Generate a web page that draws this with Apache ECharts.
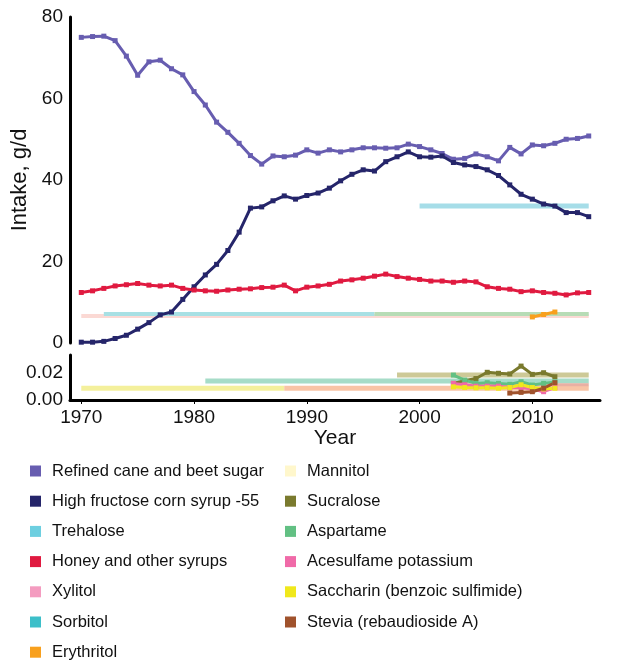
<!DOCTYPE html>
<html>
<head>
<meta charset="utf-8">
<script src="https://cdn.jsdelivr.net/npm/echarts@6/dist/echarts.min.js"></script>
<style>
  html, body { margin: 0; padding: 0; background: #fff; }
  #main { width: 641px; height: 665px; }
</style>
</head>
<body>
<div id="main"></div>
<script>
// 年份
const years = [1970, 1971, 1972, 1973, 1974, 1975, 1976, 1977, 1978, 1979,
  1980, 1981, 1982, 1983, 1984, 1985, 1986, 1987, 1988, 1989,
  1990, 1991, 1992, 1993, 1994, 1995, 1996, 1997, 1998, 1999,
  2000, 2001, 2002, 2003, 2004, 2005, 2006, 2007, 2008, 2009,
  2010, 2011, 2012, 2013, 2014, 2015]
const tickYears = [1970, 1980, 1990, 2000, 2010]

// 上图 g/d
const refined = [75.0, 75.2, 75.3, 74.2, 70.4, 65.7, 69.0, 69.4, 67.3, 65.8,
  61.7, 58.4, 54.2, 51.7, 49.0, 46.0, 43.9, 45.9, 45.7, 46.1,
  47.4, 46.6, 47.4, 46.9, 47.4, 47.9, 47.9, 47.8, 47.9, 48.8,
  48.2, 47.4, 46.5, 45.1, 45.3, 46.4, 45.7, 44.7, 48.0, 46.4,
  48.6, 48.4, 49.0, 50.0, 50.2, 50.8]
const hfcs = [0.2, 0.2, 0.4, 1.1, 1.9, 3.4, 5.0, 6.9, 7.6, 10.7,
  13.8, 16.7, 19.3, 22.7, 27.2, 33.1, 33.4, 34.9, 36.1, 35.3,
  36.2, 36.8, 38.0, 39.8, 41.4, 42.5, 42.2, 44.5, 45.7, 46.9,
  45.7, 45.6, 45.9, 44.3, 43.7, 43.3, 42.5, 41.1, 38.8, 36.5,
  35.3, 34.1, 33.6, 32.0, 32.0, 31.0]
const honey = [12.4, 12.8, 13.4, 14.0, 14.3, 14.6, 14.2, 14.0, 14.2, 13.4,
  13.0, 12.8, 12.7, 13.0, 13.2, 13.3, 13.6, 13.7, 14.2, 12.8,
  13.7, 14.0, 14.4, 15.2, 15.5, 15.9, 16.4, 16.9, 16.3, 15.9,
  15.6, 15.2, 15.2, 14.9, 15.2, 15.0, 13.8, 13.4, 13.2, 12.6,
  12.8, 12.4, 12.2, 11.8, 12.3, 12.4]
const erythritolYears = [2010, 2011, 2012]
const erythritol = [6.4, 7.0, 7.6]

// 上图 横条
const trehaloseBand = [[2000, 33.6], [2015, 33.6]]
const xylitolBand = [[1970, 6.6], [2015, 6.6]]
const sorbitolBand = [[1972, 7.1], [1996, 7.1]]
const greenBand = [[1996, 7.1], [2015, 7.1]]

// 下图 g/d
const lowYears = [2003, 2004, 2005, 2006, 2007, 2008, 2009, 2010, 2011, 2012]
const sucralose = [0.012, 0.014, 0.0155, 0.020, 0.0193, 0.0188, 0.0245, 0.0185, 0.0197, 0.0168]
const aspartame = [0.018, 0.0144, 0.012, 0.0125, 0.012, 0.0113, 0.0132, 0.0108, 0.012, 0.013]
const acesulfame = [0.012, 0.011, 0.010, 0.010, 0.010, 0.009, 0.009, 0.008, 0.006, 0.009]
const saccharin = [0.0095, 0.009, 0.0088, 0.0088, 0.0085, 0.009, 0.011, 0.009, 0.008, 0.0085]
const steviaYears = [2008, 2009, 2010, 2011, 2012]
const stevia = [0.005, 0.0055, 0.006, 0.0085, 0.0125]

// 下图 横条
const mannitolBand = [[1970, 0.0085], [1988, 0.0085]]
const peachBand = [[1988, 0.0085], [2015, 0.0085]]
const aspartameBand = [[1981, 0.0137], [2015, 0.0137]]
const sucraloseBand = [[1998, 0.018], [2015, 0.018]]
const pinkBand = [[2003, 0.011], [2015, 0.011]]

const legendLeft = ['Refined cane and beet sugar', 'High fructose corn syrup -55', 'Trehalose',
  'Honey and other syrups', 'Xylitol', 'Sorbitol', 'Erythritol']
const legendRight = ['Mannitol', 'Sucralose', 'Aspartame', 'Acesulfame potassium',
  'Saccharin (benzoic sulfimide)', 'Stevia (rebaudioside A)']

const colors = {
  'Refined cane and beet sugar': '#675db0',
  'High fructose corn syrup -55': '#25256a',
  'Trehalose': '#6dcfe0',
  'Honey and other syrups': '#e01a40',
  'Xylitol': '#f49cc0',
  'Sorbitol': '#3cbfc9',
  'Erythritol': '#f8a01e',
  'Mannitol': '#fff7cc',
  'Sucralose': '#7a7a2e',
  'Aspartame': '#62c083',
  'Acesulfame potassium': '#f06aa8',
  'Saccharin (benzoic sulfimide)': '#f0e81c',
  'Stevia (rebaudioside A)': '#a0522c'
}

const FONT = 'Liberation Sans, Arial, sans-serif'

function pairs(xs, ys) {
  return xs.map((x, i) => [x, ys[i]])
}

function line(name, xs, ys, grid) {
  return {
    name: name,
    type: 'line',
    xAxisIndex: grid,
    yAxisIndex: grid,
    data: pairs(xs, ys),
    symbol: 'rect',
    symbolSize: 5,
    lineStyle: { width: 3, color: colors[name] },
    itemStyle: { color: colors[name] },
    z: 5
  }
}

function band(name, data, color, grid, width) {
  return {
    name: name,
    type: 'line',
    xAxisIndex: grid,
    yAxisIndex: grid,
    data: data,
    symbol: 'none',
    lineStyle: { width: width || 5, color: color, cap: 'butt' },
    itemStyle: { color: color },
    z: 2
  }
}

function legendBox(names, left) {
  return {
    orient: 'vertical',
    left: left,
    top: 461,
    padding: 0,
    itemWidth: 11,
    itemHeight: 11,
    itemGap: 10.2,
    icon: 'rect',
    selectedMode: false,
    textStyle: { fontFamily: FONT, fontSize: 16.5, color: '#111', lineHeight: 20, padding: [0, 0, 0, 6] },
    data: names.map(n => ({ name: n, itemStyle: { color: colors[n] } }))
  }
}

const xBase = {
  type: 'value',
  min: 1969,
  max: 2016
}

const mycharts = echarts.init(document.querySelector('#main'))
const option = {
  animation: false,
  textStyle: { fontFamily: FONT },
  grid: [
    { left: 70, top: 17, width: 530, height: 326 },
    { left: 70, top: 355, width: 530, height: 45 }
  ],
  xAxis: [
    Object.assign({}, xBase, {
      gridIndex: 0,
      show: false
    }),
    Object.assign({}, xBase, {
      gridIndex: 1,
      name: 'Year',
      nameLocation: 'middle',
      nameGap: 28,
      nameTextStyle: { fontFamily: FONT, fontSize: 21, color: '#111' },
      axisLine: { lineStyle: { color: '#000', width: 3 } },
      axisTick: { show: true, length: 4, customValues: tickYears, lineStyle: { color: '#000' } },
      axisLabel: { customValues: tickYears, fontSize: 19, color: '#111', margin: 8, formatter: v => String(v) },
      splitLine: { show: false }
    })
  ],
  yAxis: [
    {
      gridIndex: 0,
      type: 'value',
      min: 0,
      max: 80,
      interval: 20,
      name: 'Intake, g/d',
      nameLocation: 'middle',
      nameGap: 34,
      nameTextStyle: { fontFamily: FONT, fontSize: 22, color: '#111' },
      axisLine: { show: true, lineStyle: { color: '#000', width: 3 } },
      axisTick: { show: false },
      axisLabel: { fontSize: 19, color: '#111', margin: 7 },
      splitLine: { show: false }
    },
    {
      gridIndex: 1,
      type: 'value',
      min: 0,
      max: 0.0325,
      interval: 0.02,
      axisLine: { show: true, lineStyle: { color: '#000', width: 3 } },
      axisTick: { show: false },
      axisLabel: {
        fontSize: 19, color: '#111', margin: 7, showMaxLabel: false,
        formatter: v => v.toFixed(2)
      },
      splitLine: { show: false }
    }
  ],
  legend: [legendBox(legendLeft, 30), legendBox(legendRight, 285)],
  series: [
    // 上图横条
    band('Xylitol', xylitolBand, '#fbd9d4', 0, 4),
    band('Sorbitol', sorbitolBand, '#a8e0e4', 0, 4),
    band('band-green', greenBand, '#b7dcb6', 0, 4),
    band('Trehalose', trehaloseBand, '#a6dde8', 0, 5),
    // 下图横条
    band('Mannitol', mannitolBand, '#f4f09c', 1, 5),
    band('band-peach', peachBand, '#f9c4a6', 1, 5),
    band('band-aspartame', aspartameBand, '#a6dcc8', 1, 5),
    band('band-sucralose', sucraloseBand, '#cdc997', 1, 5),
    band('band-pink', pinkBand, '#e9b0a4', 1, 3),
    // 线
    line('Refined cane and beet sugar', years, refined, 0),
    line('High fructose corn syrup -55', years, hfcs, 0),
    line('Honey and other syrups', years, honey, 0),
    line('Erythritol', erythritolYears, erythritol, 0),
    line('Sucralose', lowYears, sucralose, 1),
    line('Aspartame', lowYears, aspartame, 1),
    line('Acesulfame potassium', lowYears, acesulfame, 1),
    line('Saccharin (benzoic sulfimide)', lowYears, saccharin, 1),
    line('Stevia (rebaudioside A)', steviaYears, stevia, 1)
  ]
}
mycharts.setOption(option)
</script>
</body>
</html>
